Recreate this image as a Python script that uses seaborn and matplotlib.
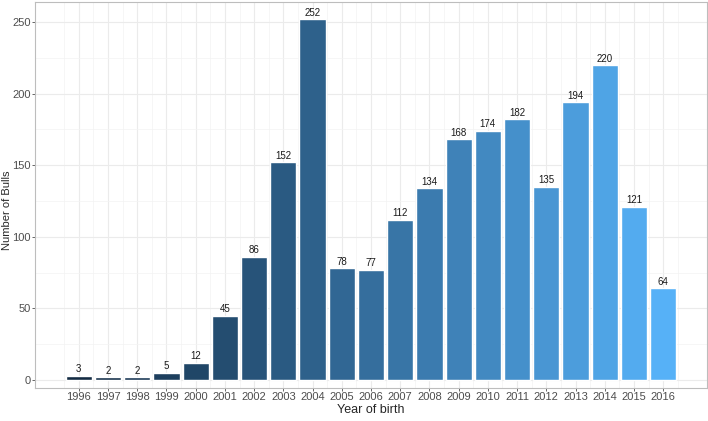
import numpy as np
import seaborn as sns
from matplotlib import pyplot as plt
from matplotlib.colors import LinearSegmentedColormap

years = list(range(1996, 2017))
bulls = [3, 2, 2, 5, 12, 45, 86, 152, 252, 78, 77, 112, 134, 168, 174, 182, 135, 194, 220, 121, 64]

sns.set_style("white")
plt.rcParams["font.family"] = ["Liberation Sans", "DejaVu Sans"]

cmap = LinearSegmentedColormap.from_list("gg", ["#132B43", "#56B1F7"])
colors = [cmap(i / (len(years) - 1)) for i in range(len(years))]

fig = plt.figure(figsize=(7.08, 4.21), dpi=100)
ax = fig.add_axes([35 / 708, 1 - 388 / 421, 672 / 708, 386 / 421])

sns.barplot(x=years, y=bulls, hue=years, palette=colors, native_scale=True,
            width=0.9, legend=False, saturation=1, ax=ax)

for c in ax.containers:
    ax.bar_label(c, fontsize=7, padding=1, color="#1a1a1a")

ax.set_xlim(1994.58, 2017.5)
ax.set_ylim(-5.6, 264)
ax.set_xticks(years)
ax.set_xticklabels([str(y) for y in years])
ax.set_xticks(np.arange(1994.5, 2017.6, 1.0), minor=True)
ax.set_yticks(range(0, 251, 50))
ax.set_yticks(range(25, 251, 50), minor=True)

ax.grid(True, which="major", color="#EBEBEB", linewidth=0.8)
ax.grid(True, which="minor", color="#F3F3F3", linewidth=0.5)
ax.set_axisbelow(True)

for s in ax.spines.values():
    s.set_color("#BDBDBD")
    s.set_linewidth(0.8)

ax.tick_params(axis="both", which="major", labelsize=8, labelcolor="#4D4D4D",
               color="#4D4D4D", length=2, width=0.6, left=True, bottom=True, pad=1)
ax.tick_params(which="minor", length=0)

ax.set_xlabel("Year of birth", fontsize=9, labelpad=1)
ax.set_ylabel("Number of Bulls", fontsize=8)
ax.yaxis.set_label_coords(12.5 / 708, 0.5, transform=fig.transFigure)

plt.savefig("out.png", dpi=100)
